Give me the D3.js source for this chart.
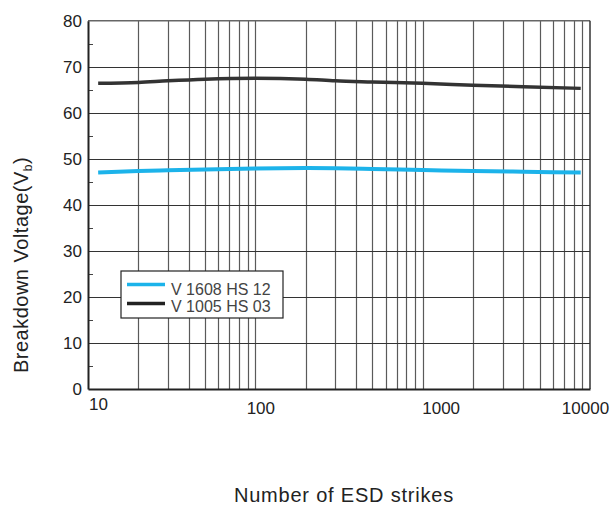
<!DOCTYPE html>
<html>
<head>
<meta charset="utf-8">
<script src="https://cdn.jsdelivr.net/npm/d3@7"></script>
<style>
  body { margin: 0; background: #fff; }
  svg text { font-family: "Liberation Sans", Arial, sans-serif; }
</style>
</head>
<body>
<svg></svg>
<script>
var width = 614,
    height = 513;

// data
var strikes = [11.5, 20, 30, 50, 100, 200, 300, 500, 1000, 2000, 4000, 8800];
var v1608 = [47.0, 47.33, 47.5, 47.7, 47.9, 47.98, 47.95, 47.8, 47.55, 47.33, 47.2, 47.0];
var v1005 = [66.4, 66.6, 66.95, 67.3, 67.5, 67.3, 66.95, 66.7, 66.4, 66.0, 65.65, 65.3];
var seriesNames = ["V 1608 HS 12", "V 1005 HS 03"];
var xTicks = [10, 100, 1000, 10000];
var yTicks = [0, 10, 20, 30, 40, 50, 60, 70, 80];
var yMinor = [5, 15, 25, 35, 45, 55, 65, 75];

var svg = d3.select("svg").attr("width", width).attr("height", height);

var x = d3.scaleLog().domain([10, 10000]).range([88, 590]);
var y = d3.scaleLinear().domain([0, 80]).range([389, 20.7]);

// vertical grid: every 1..9 in each decade
var vgrid = [];
[10, 100, 1000].forEach(function(d) {
    for (var k = 1; k <= 9; k++) vgrid.push(d * k);
});
vgrid.push(10000);

svg.append("g").selectAll("line")
    .data(vgrid.filter(function(d) { return d > 10 && d < 10000; }))
    .join("line")
    .attr("x1", d => Math.round(x(d)) + 0.5)
    .attr("x2", d => Math.round(x(d)) + 0.5)
    .attr("y1", y(80))
    .attr("y2", y(0))
    .attr("stroke", "#5a5a5a")
    .attr("stroke-width", 1.2);

// horizontal grid
svg.append("g").selectAll("line")
    .data(yTicks.filter(d => d > 0 && d < 80))
    .join("line")
    .attr("x1", x(10))
    .attr("x2", x(10000))
    .attr("y1", d => Math.round(y(d)) + 0.5)
    .attr("y2", d => Math.round(y(d)) + 0.5)
    .attr("stroke", "#333")
    .attr("stroke-width", 1.2);

// minor y ticks inside the frame
svg.append("g").selectAll("line")
    .data(yMinor)
    .join("line")
    .attr("x1", x(10))
    .attr("x2", x(10) + 5)
    .attr("y1", d => Math.round(y(d)) + 0.5)
    .attr("y2", d => Math.round(y(d)) + 0.5)
    .attr("stroke", "#444");

// frame
svg.append("line").attr("x1", x(10)).attr("x2", x(10000)).attr("y1", y(80)).attr("y2", y(80))
    .attr("stroke", "#666").attr("stroke-width", 1.5);
svg.append("line").attr("x1", x(10000)).attr("x2", x(10000)).attr("y1", y(80)).attr("y2", y(0))
    .attr("stroke", "#333").attr("stroke-width", 1.5);

// y axis
var yAxis = svg.append("g")
    .attr("transform", "translate(" + x(10) + ",0)")
    .call(d3.axisLeft(y).tickValues(yTicks).tickSize(0).tickPadding(6));
yAxis.select(".domain").attr("stroke", "#222").attr("stroke-width", 2);
yAxis.selectAll("text").attr("font-size", 17).attr("fill", "#222")
    .attr("font-family", "Liberation Sans, Arial, sans-serif");

// x axis
var xShift = {10: 10, 100: 5, 1000: 18, 10000: -5};
var xAxis = svg.append("g")
    .attr("transform", "translate(0," + y(0) + ")")
    .call(d3.axisBottom(x).tickValues(xTicks).tickFormat(d3.format("d")).tickSize(0).tickPadding(13));
xAxis.select(".domain").attr("stroke", "#222").attr("stroke-width", 2);
xAxis.selectAll("text").attr("font-size", 17).attr("fill", "#222")
    .attr("font-family", "Liberation Sans, Arial, sans-serif")
    .attr("dx", d => xShift[d])
    .attr("dy", d => d === 10 ? "0.45em" : "0.71em");

// lines
var line = d3.line()
    .x(d => x(d[0]))
    .y(d => y(d[1]))
    .curve(d3.curveMonotoneX);

svg.append("path")
    .datum(d3.zip(strikes, v1608))
    .attr("d", line)
    .attr("fill", "none")
    .attr("stroke", "#1cb3ea")
    .attr("stroke-width", 4);

svg.append("path")
    .datum(d3.zip(strikes, v1005))
    .attr("d", line)
    .attr("fill", "none")
    .attr("stroke", "#333")
    .attr("stroke-width", 3.5);

// legend
var legend = svg.append("g").attr("transform", "translate(121,271)");
legend.append("rect")
    .attr("width", 162).attr("height", 47)
    .attr("fill", "#fff").attr("stroke", "#222").attr("stroke-width", 1.2);
var colors = ["#1cb3ea", "#222"];
seriesNames.forEach(function(name, i) {
    legend.append("line")
        .attr("x1", 6).attr("x2", 44)
        .attr("y1", 13.5 + i * 19).attr("y2", 13.5 + i * 19)
        .attr("stroke", colors[i]).attr("stroke-width", 3.5);
    legend.append("text")
        .attr("x", 50).attr("y", 24 + i * 16.5)
        .attr("font-size", 16).attr("fill", "#444")
        .text(name);
});

// axis titles
svg.append("text")
    .attr("x", 344).attr("y", 502)
    .attr("text-anchor", "middle")
    .attr("font-size", 20).attr("fill", "#222")
    .attr("letter-spacing", 0.8)
    .text("Number of ESD strikes");

var yt = svg.append("text")
    .attr("transform", "translate(28,265) rotate(-90)")
    .attr("text-anchor", "middle")
    .attr("font-size", 20).attr("fill", "#222")
    .attr("letter-spacing", 0.5);
yt.append("tspan").text("Breakdown Voltage(V");
yt.append("tspan").attr("font-size", 12).attr("dy", 4).text("b");
yt.append("tspan").attr("dy", -4).text(")");
</script>
</body>
</html>
